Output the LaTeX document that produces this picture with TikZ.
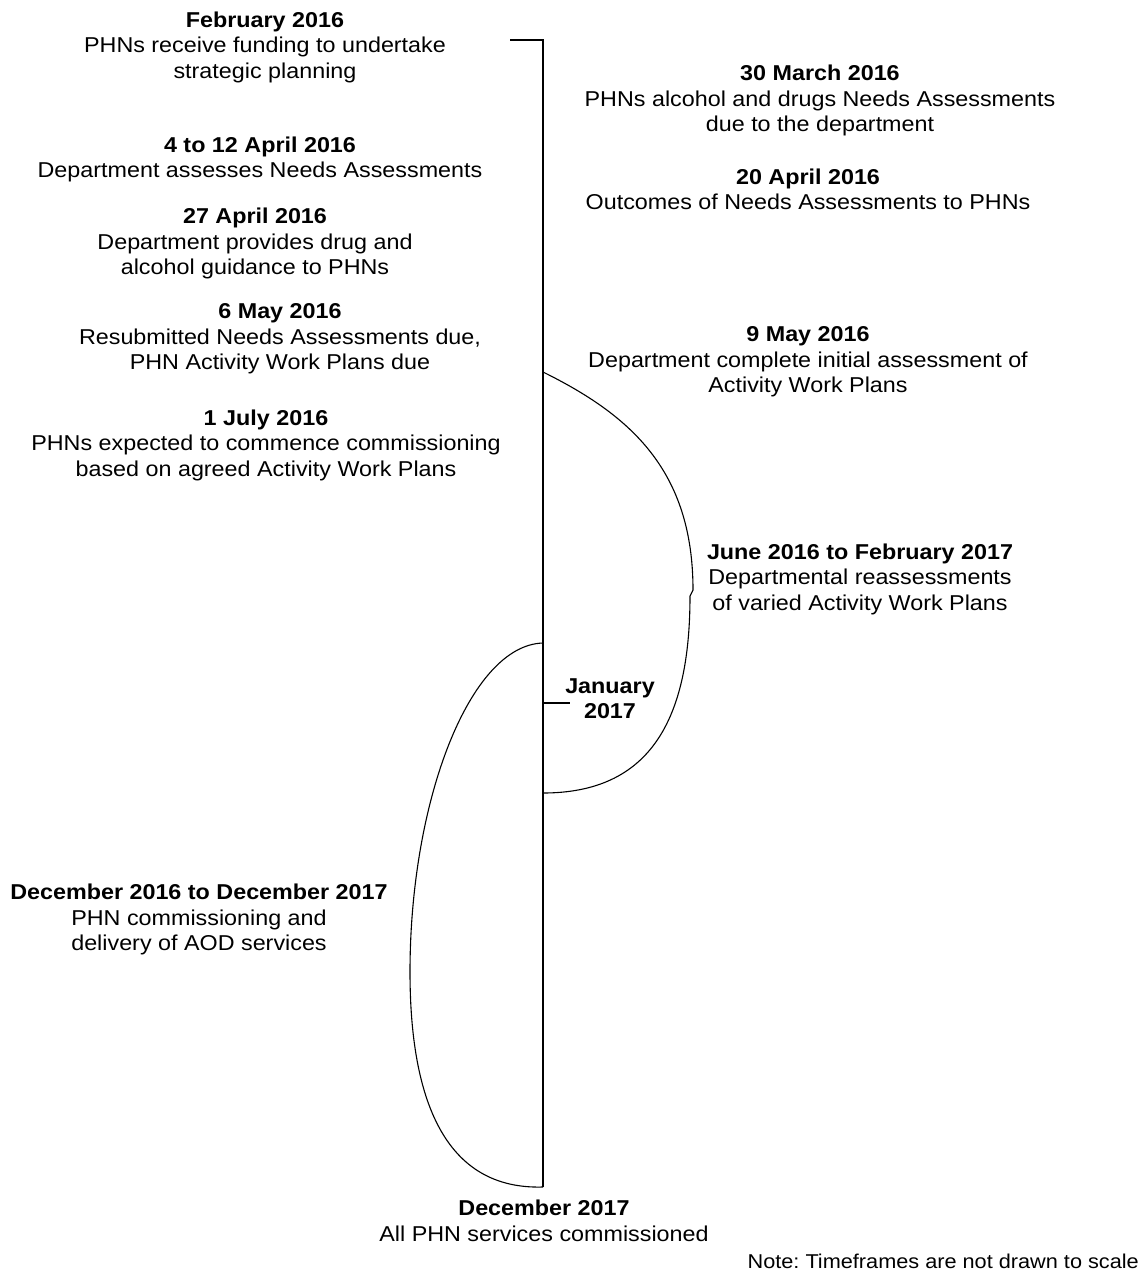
\documentclass[tikz,border=0pt]{standalone}
\usepackage{fontspec}
\setmainfont{Liberation Sans}[FakeStretch=1.085]
\begin{document}
\frenchspacing
\begin{tikzpicture}[x={(1pt,0pt)},y={(0pt,-1pt)},
  evt/.style={inner sep=0pt, align=center, anchor=north, font=\fontsize{21.5}{25.5}\selectfont},
  axisline/.style={line width=1.3pt, black},
  span/.style={line width=1.1pt, black}]
\useasboundingbox (0,0) rectangle (1143,1275);
% axis
\coordinate (topL) at (510,40);
\coordinate (top) at (543,40);
\coordinate (bot) at (543,1187);
\draw[axisline] (topL) -- (top) -- (bot);
% January tick
\coordinate (jt) at (543,703);
\coordinate (jte) at (570,703);
\draw[span] (jt) -- (jte);
% right span curve
\coordinate (r1) at (543,372);
\coordinate (rk1) at (693,590);
\coordinate (rk2) at (690,596);
\coordinate (r2) at (543,793);
\draw[span] (r1) .. controls (630,415) and (693,470) .. (rk1) -- (rk2) .. controls (690,720) and (650,793) .. (r2);
% left span curve
\coordinate (l1) at (543,643);
\coordinate (lm) at (410,972);
\coordinate (l2) at (543,1187);
\draw[span] (l1) .. controls (470,645) and (410,800) .. (lm) .. controls (410,1100) and (445,1190) .. (l2);
% left events
\node[evt] (feb) at (265,11.7) {\textbf{February 2016}\\PHNs receive funding to undertake\\strategic planning};
\node[evt] (apr4) at (260,136.7) {\textbf{4 to 12 April 2016}\\Department assesses Needs Assessments};
\node[evt] (apr27) at (255,208) {\textbf{27 April 2016}\\Department provides drug and\\alcohol guidance to PHNs};
\node[evt] (may6) at (280,303.3) {\textbf{6 May 2016}\\Resubmitted Needs Assessments due,\\PHN Activity Work Plans due};
\node[evt] (jul1) at (266,409.3) {\textbf{1 July 2016}\\PHNs expected to commence commissioning\\based on agreed Activity Work Plans};
\node[evt] (dec16) at (199,884) {\textbf{December 2016 to December 2017}\\PHN commissioning and\\delivery of AOD services};
% right events
\node[evt] (mar30) at (820,65) {\textbf{30 March 2016}\\PHNs alcohol and drugs Needs Assessments\\due to the department};
\node[evt] (apr20) at (808,168.3) {\textbf{20 April 2016}\\Outcomes of Needs Assessments to PHNs};
\node[evt] (may9) at (808,326.7) {\textbf{9 May 2016}\\Department complete initial assessment of\\Activity Work Plans};
\node[evt] (jun16) at (860,543.3) {\textbf{June 2016 to February 2017}\\Departmental reassessments\\of varied Activity Work Plans};
\node[evt] (jan17) at (610,678.3) {\textbf{January}\\\textbf{2017}};
% bottom
\node[evt] (dec17) at (544,1200) {\textbf{December 2017}\\All PHN services commissioned};
\node[inner sep=0pt, anchor=base east, font=\fontsize{20}{24}\selectfont] (note) at (1139,1268) {Note: Timeframes are not drawn to scale};
\end{tikzpicture}
\end{document}
